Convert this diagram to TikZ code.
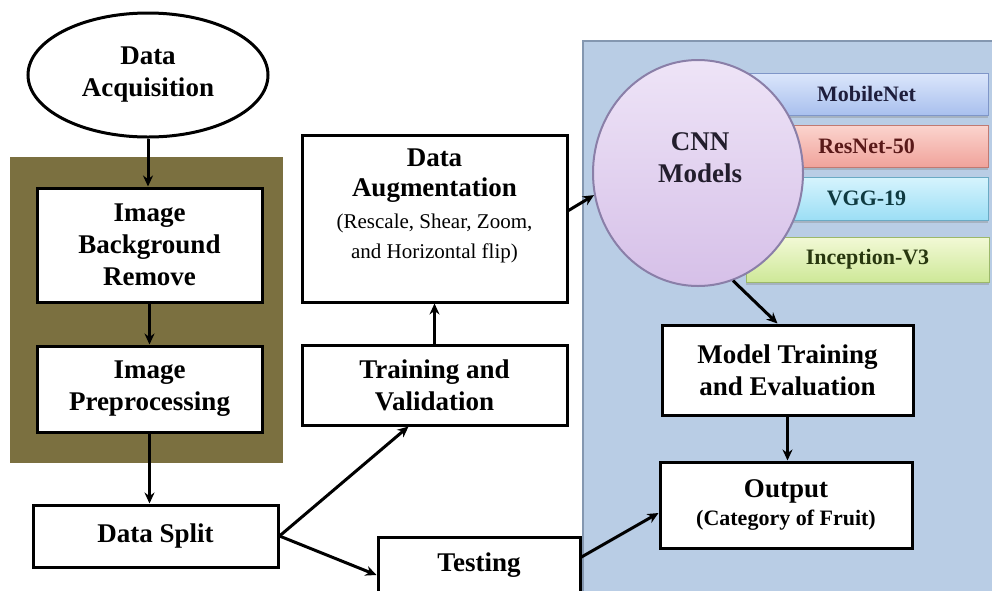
\documentclass[tikz,border=0pt]{standalone}
\usepackage{fontspec}
\setmainfont{Liberation Serif}
\usetikzlibrary{shapes.geometric,arrows.meta,calc,shadows}
\definecolor{olivebg}{HTML}{7B7040}
\definecolor{panelbg}{HTML}{B9CDE5}
\definecolor{panelbd}{HTML}{8497B0}
\definecolor{cnnbd}{HTML}{8A7FA8}
\definecolor{cnntop}{HTML}{EEE4F7}
\definecolor{cnnbot}{HTML}{D6C0E8}
\definecolor{cnntext}{HTML}{231E2D}
\definecolor{mobtop}{HTML}{DBE6FB}
\definecolor{mobbot}{HTML}{A9C0EE}
\definecolor{mobbd}{HTML}{7F96C8}
\definecolor{mobtx}{HTML}{1E1E3C}
\definecolor{restop}{HTML}{FBD4CE}
\definecolor{resbot}{HTML}{F0A39B}
\definecolor{resbd}{HTML}{C07A72}
\definecolor{restx}{HTML}{5A1919}
\definecolor{vggtop}{HTML}{D6F4FD}
\definecolor{vggbot}{HTML}{9CDEF5}
\definecolor{vggbd}{HTML}{6AAAC4}
\definecolor{vggtx}{HTML}{0F3A40}
\definecolor{inctop}{HTML}{F2F9D6}
\definecolor{incbot}{HTML}{CEE898}
\definecolor{incbd}{HTML}{9CB86A}
\definecolor{inctx}{HTML}{28370F}
\tikzset{
  mainfont/.style={font=\bfseries\fontsize{27}{32}\selectfont, align=center},
  procbox/.style={draw=black, line width=3pt, fill=white, inner sep=0pt, mainfont},
  flow/.style={line width=3pt, -{Stealth[length=11pt,width=10pt]}},
  modelbox/.style={draw=#1, line width=0.8pt, inner sep=0pt,
     minimum width=243pt, font=\bfseries\fontsize{22}{26}\selectfont,
     drop shadow={opacity=0.35, shadow xshift=0pt, shadow yshift=-3pt}},
}
\begin{document}
\begin{tikzpicture}[x=1pt,y=-1pt]
\useasboundingbox (0,0) rectangle (992,590);
\clip (0,0) rectangle (992,590);
% right panel
\node[draw=panelbd, fill=panelbg, line width=1.5pt, minimum width=420pt, minimum height=570pt, anchor=north west] (panel) at (582,40) {};
% olive background
\node[fill=olivebg, minimum width=273pt, minimum height=306pt, anchor=north west, inner sep=0pt] (olive) at (10,157) {};
% left column
\node[draw=black, line width=3pt, fill=white, ellipse, minimum width=240pt, minimum height=124pt, inner sep=0pt, mainfont] (acq) at (148,75) {Data\\Acquisition};
\node[procbox, minimum width=225pt, minimum height=114pt] (ibr) at (149.5,245) {Image\\Background\\Remove};
\node[procbox, minimum width=225pt, minimum height=86pt] (ip) at (149.5,389) {Image\\Preprocessing};
\node[procbox, minimum width=245pt, minimum height=62pt] (split) at (155.5,536) {Data Split};
% middle column
\node[procbox, minimum width=265pt, minimum height=167pt] (aug) at (434.5,218.5) {};
\node[align=center, inner sep=0pt, font=\bfseries\fontsize{27}{30}\selectfont] (augt) at (434.5,206) {Data\\Augmentation\\[2pt]\mdseries\fontsize{21}{26}\selectfont (Rescale, Shear, Zoom,\\\mdseries\fontsize{21}{26}\selectfont and Horizontal flip)};
\node[procbox, minimum width=265pt, minimum height=80pt] (tv) at (434.5,385) {Training and\\Validation};
\node[procbox, minimum width=202pt, minimum height=56pt] (test) at (479,565) {Testing};
% model boxes
\node[modelbox=mobbd, top color=mobtop, bottom color=mobbot, minimum height=42pt, text=mobtx] (mob) at (866.5,94) {MobileNet};
\node[modelbox=resbd, top color=restop, bottom color=resbot, minimum height=42pt, text=restx] (res) at (866.5,146) {ResNet-50};
\node[modelbox=vggbd, top color=vggtop, bottom color=vggbot, minimum height=43pt, text=vggtx] (vgg) at (866.5,198.5) {VGG-19};
\node[modelbox=incbd, top color=inctop, bottom color=incbot, minimum height=45pt, text=inctx] (inc) at (867.5,259.5) {Inception-V3};
% CNN ellipse
\node[ellipse, draw=cnnbd, line width=2pt, top color=cnntop, bottom color=cnnbot, minimum width=210pt, minimum height=226pt, inner sep=0pt] (cnn) at (698,173) {};
\node[mainfont, inner sep=0pt, text=cnntext] (cnnt) at (700,158) {CNN\\Models};
% right column
\node[procbox, minimum width=251pt, minimum height=90pt] (mte) at (787.5,370) {Model Training\\and Evaluation};
\node[procbox, minimum width=252pt, minimum height=86pt, align=center] (out) at (786,505) {Output\\[-4pt]{\fontsize{22}{26}\selectfont (Category of Fruit)}};
% connectors
\draw[flow] (acq.south) -- (acq.south |- ibr.north);
\draw[flow] (ibr.south) -- (ibr.south |- ip.north);
\draw[flow] (ip.south) -- (ip.south |- split.north);
\draw[flow] (split.east) -- ($(tv.south)+(-26,0)$);
\draw[flow] (split.east) -- ($(test.west)+(0,10)$);
\draw[flow] (tv.north) -- (aug.south);
\draw[flow] ($(aug.east)+(0,-8)$) -- (cnn.192);
\draw[flow] (cnn.-72) -- ($(mte.north)+(-10,0)$);
\draw[flow] (mte.south) -- (mte.south |- out.north);
\draw[flow] ($(test.east)+(0,-8)$) -- ($(out.west)+(0,8)$);
\end{tikzpicture}
\end{document}
